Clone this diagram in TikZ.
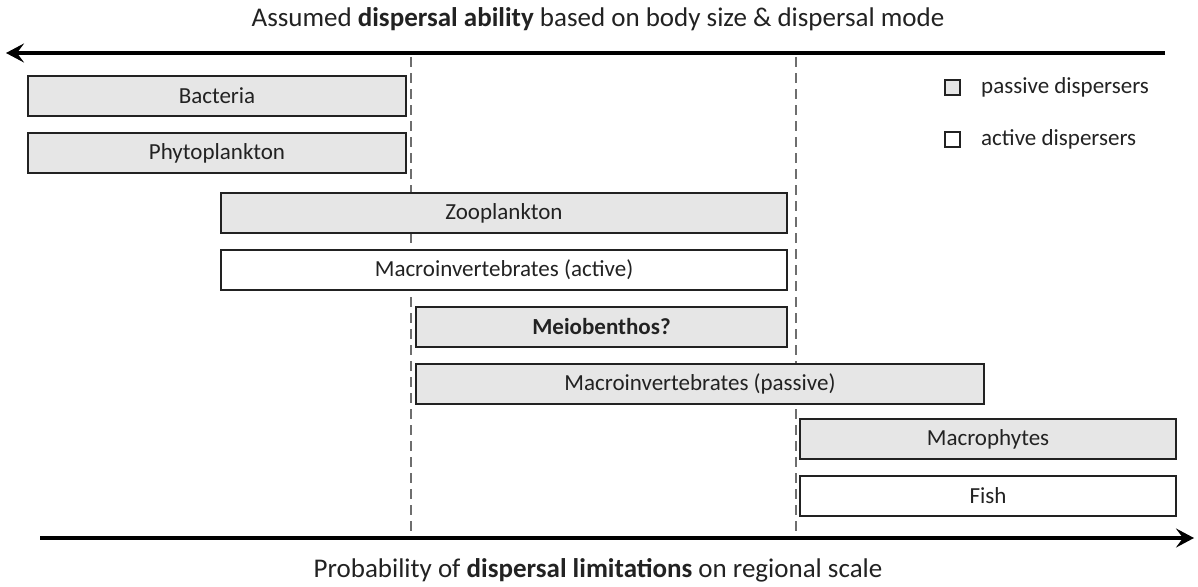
\documentclass[tikz,border=0pt]{standalone}
\usepackage{fontspec}
\setmainfont{Carlito}
\usetikzlibrary{arrows.meta}
\definecolor{boxfill}{HTML}{E6E6E6}
\definecolor{txt}{HTML}{222222}
\definecolor{dashgray}{HTML}{6E6E6E}
\tikzset{
  grp/.style={draw=txt, line width=2pt, minimum height=40pt, inner sep=0pt, font=\fontsize{23}{26}\selectfont, text=txt},
  pbox/.style={grp, fill=boxfill},
  abox/.style={grp, fill=white},
  axis/.style={line width=3.2pt, -{Stealth[length=18pt,width=19pt,inset=7pt]}},
  divider/.style={draw=dashgray, line width=2.4pt, dash pattern=on 10pt off 6pt},
  axlabel/.style={font=\fontsize{27}{31}\selectfont, text=txt},
  legsq/.style={draw=txt, line width=1.8pt, minimum width=15pt, minimum height=15pt, inner sep=0pt},
  legtxt/.style={font=\fontsize{23}{26}\selectfont, text=txt, anchor=west, inner sep=0pt}
}
\begin{document}
\begin{tikzpicture}[x=1pt,y=-1pt]
\useasboundingbox (0,0) rectangle (1198,586);
% axes
\coordinate (tr) at (1165,53);
\coordinate (tl) at (6,53);
\coordinate (bl) at (40,538);
\coordinate (br) at (1194,538);
\draw[axis] (tr) -- (tl);
\draw[axis] (bl) -- (br);
\node[axlabel] (title) at (598,19) {Assumed \textbf{dispersal ability} based on body size \& dispersal mode};
\node[axlabel] (bottom) at (598,570) {Probability of \textbf{dispersal limitations} on regional scale};
% dividers
\coordinate (d1t) at (411,57);
\coordinate (d1b) at (411,533);
\coordinate (d2t) at (796,57);
\coordinate (d2b) at (796,533);
\draw[divider] (d1t) -- (d1b);
\draw[divider] (d2t) -- (d2b);
% boxes
\node[pbox, minimum width=378pt] (bac) at (217,96) {Bacteria};
\node[pbox, minimum width=378pt] (phy) at (217,153) {Phytoplankton};
\node[pbox, minimum width=566pt] (zoo) at (504,213) {Zooplankton};
\node[abox, minimum width=566pt] (mia) at (504,270) {Macroinvertebrates (active)};
\node[pbox, minimum width=371pt, font=\fontsize{23}{26}\selectfont\bfseries] (mei) at (601.5,326.5) {Meiobenthos?};
\node[pbox, minimum width=568pt] (mip) at (700,383.5) {Macroinvertebrates (passive)};
\node[pbox, minimum width=376pt] (mac) at (988,439) {Macrophytes};
\node[abox, minimum width=376pt] (fish) at (988,495.5) {Fish};
% legend
\node[legsq, fill=boxfill] (lp) at (952.5,87.5) {};
\node[legtxt] (lpt) at (981,87) {passive dispersers};
\node[legsq, fill=white] (la) at (952.5,139.5) {};
\node[legtxt] (lat) at (981,139) {active dispersers};
\end{tikzpicture}
\end{document}
